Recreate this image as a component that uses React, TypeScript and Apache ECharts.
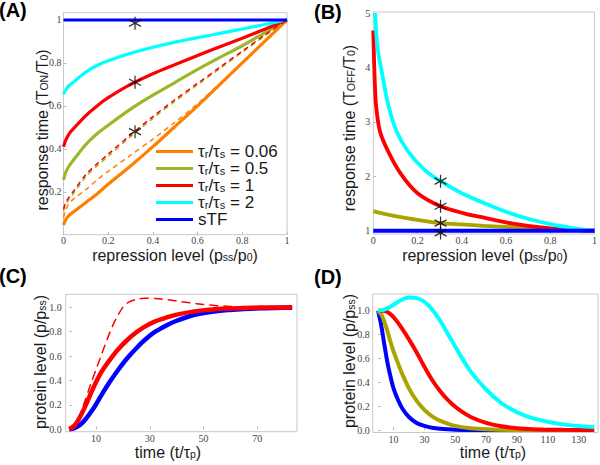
import { useEffect, useRef } from "react";
import * as echarts from "echarts";

// ---------- Panel A : response time T_ON/T_0 vs repression level ----------
const A_X = [0, 0.01, 0.025, 0.05, 0.1, 0.15, 0.2, 0.3, 0.4, 0.5, 0.6, 0.7, 0.8, 0.9, 1];
const A_CYAN = [0.655, 0.675, 0.695, 0.715, 0.758, 0.788, 0.81, 0.845, 0.873, 0.897, 0.918, 0.938, 0.958, 0.979, 1.0];
const A_RED = [0.41, 0.44, 0.47, 0.5, 0.555, 0.6, 0.638, 0.7, 0.75, 0.793, 0.835, 0.875, 0.915, 0.957, 1.0];
const A_OLIVE = [0.255, 0.29, 0.32, 0.355, 0.42, 0.47, 0.51, 0.585, 0.65, 0.71, 0.77, 0.826, 0.88, 0.94, 1.0];
const A_ORANGE = [0.045, 0.07, 0.09, 0.11, 0.15, 0.19, 0.235, 0.32, 0.41, 0.505, 0.6, 0.7, 0.8, 0.9, 1.0];
const A_ORANGE_DASH = [0.08, 0.115, 0.145, 0.17, 0.21, 0.255, 0.295, 0.37, 0.445, 0.525, 0.61, 0.705, 0.803, 0.902, 1.0];
const A_RED_DASH = [0.12, 0.15, 0.175, 0.21, 0.28, 0.33, 0.375, 0.465, 0.55, 0.63, 0.705, 0.78, 0.855, 0.93, 1.0];
const A_OLIVE_DASH = [0.11, 0.14, 0.165, 0.2, 0.27, 0.32, 0.365, 0.456, 0.542, 0.622, 0.698, 0.774, 0.85, 0.926, 1.0];
const A_STF_X = [0, 1];
const A_STF = [1, 1];
const A_STAR_X = [0.32, 0.32, 0.32];
const A_STAR_Y = [0.985, 0.71, 0.48];

// ---------- Panel B : response time T_OFF/T_0 ----------
const B_CYAN_X = [0.008, 0.015, 0.025, 0.038, 0.067, 0.105, 0.157, 0.232, 0.304, 0.4, 0.5, 0.6, 0.7, 0.8, 0.9, 1.0];
const B_CYAN = [5.0, 4.54, 4.2, 3.93, 3.32, 2.83, 2.46, 2.12, 1.91, 1.69, 1.51, 1.35, 1.22, 1.12, 1.05, 1.0];
const B_RED_X = [0, 0.002, 0.005, 0.012, 0.03, 0.067, 0.127, 0.2, 0.304, 0.41, 0.5, 0.63, 0.78, 0.93, 1];
const B_RED = [4.68, 4.35, 3.93, 3.32, 2.83, 2.46, 2.03, 1.69, 1.45, 1.32, 1.24, 1.13, 1.05, 1.01, 1.0];
const B_OLIVE_X = [0, 0.05, 0.1, 0.2, 0.304, 0.4, 0.5, 0.63, 0.78, 0.93, 1];
const B_OLIVE = [1.36, 1.31, 1.27, 1.2, 1.14, 1.115, 1.09, 1.065, 1.04, 1.01, 1.0];
const B_STF_X = [0, 1];
const B_STF = [1, 1];
const B_STAR_X = [0.304, 0.304, 0.304, 0.304];
const B_STAR_Y = [1.91, 1.45, 1.14, 0.96];

// ---------- Panel C : protein level, switching ON ----------
const C_T = [0, 2, 4, 6, 9, 12, 15, 18, 21.5, 25, 28, 32, 36, 40, 46, 52, 59, 65, 71, 77, 83];
const C_BLUE = [0, 0.01, 0.035, 0.08, 0.17, 0.28, 0.385, 0.48, 0.58, 0.665, 0.73, 0.8, 0.85, 0.89, 0.935, 0.96, 0.978, 0.986, 0.992, 0.995, 0.997];
const C_RED = [0, 0.03, 0.1, 0.19, 0.34, 0.47, 0.565, 0.65, 0.73, 0.795, 0.84, 0.885, 0.915, 0.94, 0.965, 0.98, 0.99, 0.995, 0.998, 0.999, 1.0];
const C_DASH_T = [0, 2, 4, 6, 8, 10, 12, 14, 16, 18, 20, 22, 25, 28, 32, 36, 40, 45, 50, 55, 60, 65, 70, 83];
const C_RED_DASH = [0, 0.03, 0.12, 0.24, 0.37, 0.49, 0.61, 0.73, 0.84, 0.93, 1.0, 1.04, 1.065, 1.075, 1.073, 1.064, 1.052, 1.037, 1.024, 1.014, 1.007, 1.003, 1.001, 1.0];

// ---------- Panel D : protein level, switching OFF ----------
const D_BLUE_T = [0, 2, 4, 6, 8, 10, 13, 16, 20, 25, 30, 35, 40, 50, 60, 80, 140];
const D_BLUE = [1.0, 0.88, 0.72, 0.57, 0.45, 0.35, 0.25, 0.175, 0.11, 0.06, 0.035, 0.02, 0.012, 0.004, 0.001, 0, 0];
const D_OLIVE_T = [0, 2, 4, 6, 8, 10, 12, 15, 20, 25, 30, 35, 40, 50, 60, 70, 90, 140];
const D_OLIVE = [1.0, 0.97, 0.91, 0.83, 0.74, 0.66, 0.59, 0.49, 0.35, 0.245, 0.17, 0.115, 0.08, 0.035, 0.015, 0.007, 0.001, 0];
const D_RED_T = [0, 3, 6, 9, 12, 15, 20, 25, 30, 35, 40, 45, 50, 55, 60, 70, 80, 90, 100, 120, 140];
const D_RED = [1.0, 1.0, 0.99, 0.96, 0.915, 0.86, 0.76, 0.65, 0.53, 0.42, 0.33, 0.255, 0.195, 0.148, 0.11, 0.06, 0.032, 0.016, 0.008, 0.002, 0.0];
const D_CYAN_T = [0, 3, 6, 10, 15, 20, 25, 30, 35, 40, 45, 50, 55, 60, 70, 80, 90, 100, 110, 120, 130, 140];
const D_CYAN = [1.0, 1.005, 1.02, 1.05, 1.09, 1.11, 1.105, 1.075, 1.01, 0.92, 0.81, 0.7, 0.59, 0.49, 0.34, 0.225, 0.15, 0.1, 0.07, 0.048, 0.035, 0.027];

// ---------- tick labels ----------
const AB_X_TICKS = [0, 0.2, 0.4, 0.6, 0.8, 1];
const A_Y_TICKS = [0.2, 0.4, 0.6, 0.8, 1];
const B_Y_TICKS = [1, 2, 3, 4, 5];
const C_X_TICKS = [10, 30, 50, 70];
const D_X_TICKS = [10, 30, 50, 70, 90, 110, 130];
const CD_Y_TICKS = [0, 0.2, 0.4, 0.6, 0.8, 1.0];

const LEGEND_NAMES = ["τr/τs = 0.06", "τr/τs = 0.5", "τr/τs = 1", "τr/τs = 2", "sTF"];
const LEGEND_RICH_TEXT: Record<string, string> = {
  "τr/τs = 0.06": "{t|τ}{s|r}{t|/τ}{s|s}{t| = 0.06}",
  "τr/τs = 0.5": "{t|τ}{s|r}{t|/τ}{s|s}{t| = 0.5}",
  "τr/τs = 1": "{t|τ}{s|r}{t|/τ}{s|s}{t| = 1}",
  "τr/τs = 2": "{t|τ}{s|r}{t|/τ}{s|s}{t| = 2}",
  sTF: "{t|sTF}",
};

const SANS = "'Liberation Sans', Arial, sans-serif";
const SERIF = "'Liberation Serif', 'Times New Roman', serif";
const ORANGE = "#ff8000";
const OLIVE_A = "#99b82a";
const OLIVE_B = "#aaa400";
const RED = "#ff0000";
const CYAN = "#00ffff";
const BLUE = "#0000ff";
const STAR_PATH = "path://M0,-10L0,10M-8.66,-5L8.66,5M-8.66,5L8.66,-5";

const zip = (xs: number[], ys: number[]) => xs.map((x, i) => [x, ys[i]]);

const fmtShort = (v: number) => String(+Number(v).toFixed(1));
const fmtOne = (v: number) => Number(v).toFixed(1);

function axisCfg(gridIndex: number, min: number, max: number, ticks: number[], fmt: (v: number) => string, margin: number) {
  return {
    type: "value",
    gridIndex,
    min,
    max,
    axisLine: { show: false },
    splitLine: { show: false },
    axisTick: { show: true, inside: true, length: 3, customValues: ticks, lineStyle: { color: "#bbb" } },
    axisLabel: {
      customValues: ticks,
      formatter: fmt,
      margin,
      fontFamily: SERIF,
      fontSize: 10,
      lineHeight: 10,
      color: "#444",
    },
  };
}

function line(name: string, idx: number, data: number[][], color: string, width: number, dash?: number[], z = 2) {
  return {
    type: "line",
    name,
    xAxisIndex: idx,
    yAxisIndex: idx,
    data,
    symbol: "none",
    smooth: 0.3,
    color,
    itemStyle: { color },
    lineStyle: { color, width, type: dash ? dash : "solid" },
    z,
    silent: true,
  };
}
function stars(idx: number, xs: number[], ys: number[]) {
  return {
    type: "scatter",
    name: "marker",
    xAxisIndex: idx,
    yAxisIndex: idx,
    data: zip(xs, ys),
    symbol: STAR_PATH,
    symbolSize: [12, 13],
    itemStyle: { color: "rgba(0,0,0,0)", borderColor: "#000", borderWidth: 1.3 },
    z: 6,
    clip: false,
    silent: true,
  };
}

const TRICH = {
  t: { fontFamily: SANS, fontSize: 16, lineHeight: 14, fill: "#1a1a1a" },
  s: { fontFamily: SANS, fontSize: 10.5, lineHeight: 6, verticalAlign: "bottom", fill: "#1a1a1a" },
};
function title(x: number, y: number, text: string, rotate = false) {
  return {
    type: "text",
    x,
    y,
    rotation: rotate ? Math.PI / 2 : 0,
    style: { text, rich: TRICH, align: "center", verticalAlign: "middle" },
    silent: true,
  };
}
function panelLabel(x: number, y: number, text: string) {
  return {
    type: "text",
    x,
    y,
    style: { text, font: `bold 20px ${SANS}`, fill: "#000", align: "left", verticalAlign: "top" },
    silent: true,
  };
}

const X_TITLE = "{t|repression level (p}{s|ss}{t|/p}{s|0}{t|)}";
const T_TITLE = "{t|time (t/τ}{s|p}{t|)}";
const P_TITLE = "{t|protein level (p/p}{s|ss}{t|)}";

export default function App() {
  const ref = useRef<HTMLDivElement>(null);
  useEffect(() => {
    const chart = echarts.init(ref.current!, null, { renderer: "svg" });
    const gridBase = { show: true, borderColor: "#c8c8c8", borderWidth: 1, backgroundColor: "transparent" };
    chart.setOption({
      animation: false,
      backgroundColor: "#fff",
      grid: [
        { ...gridBase, left: 63.5, top: 12.7, width: 223.5, height: 222 },
        { ...gridBase, left: 373.3, top: 12, width: 222.7, height: 222 },
        { ...gridBase, left: 65.7, top: 294.3, width: 231.3, height: 137.4 },
        { ...gridBase, left: 372.7, top: 294, width: 225.3, height: 138.5 },
      ],
      xAxis: [
        axisCfg(0, 0, 1, AB_X_TICKS, fmtShort, 1),
        axisCfg(1, 0, 1, AB_X_TICKS, fmtShort, 1),
        axisCfg(2, -1.3, 84.8, C_X_TICKS, (v) => String(v), 2),
        axisCfg(3, -3.5, 142.5, D_X_TICKS, (v) => String(v), 2),
      ],
      yAxis: [
        axisCfg(0, 0, 1.034, A_Y_TICKS, fmtShort, 2),
        axisCfg(1, 0.94, 5.02, B_Y_TICKS, (v) => String(v), 3),
        axisCfg(2, -0.02, 1.107, CD_Y_TICKS, fmtOne, 4),
        axisCfg(3, -0.02, 1.14, CD_Y_TICKS, fmtOne, 3),
      ],
      legend: {
        data: LEGEND_NAMES,
        orient: "vertical",
        left: 156,
        top: 143,
        padding: 0,
        itemGap: 0,
        itemWidth: 37,
        itemHeight: 3,
        icon: "rect",
        selectedMode: false,
        formatter: (name: string) => LEGEND_RICH_TEXT[name] || name,
        textStyle: {
          color: "#1a1a1a",
          rich: {
            t: { fontFamily: SANS, fontSize: 17, lineHeight: 15.6, color: "#1a1a1a" },
            s: { fontFamily: SANS, fontSize: 11, lineHeight: 7, verticalAlign: "bottom", color: "#1a1a1a" },
          },
        },
      },
      series: [
        // A
        line("τr/τs = 0.06", 0, zip(A_X, A_ORANGE), ORANGE, 3.2),
        line("τr/τs = 0.5", 0, zip(A_X, A_OLIVE), OLIVE_A, 3.2),
        line("τr/τs = 1", 0, zip(A_X, A_RED), RED, 3.2),
        line("τr/τs = 2", 0, zip(A_X, A_CYAN), CYAN, 3.2),
        line("sTF", 0, zip(A_STF_X, A_STF), BLUE, 3.2, undefined, 4),
        line("approx 0.06", 0, zip(A_X, A_ORANGE_DASH), ORANGE, 1.5, [5, 4]),
        line("approx 0.5", 0, zip(A_X, A_OLIVE_DASH), OLIVE_A, 1.5, [5, 4]),
        line("approx 1", 0, zip(A_X, A_RED_DASH), RED, 1.5, [5, 4], 3),
        stars(0, A_STAR_X, A_STAR_Y),
        // B
        line("τr/τs = 0.5", 1, zip(B_OLIVE_X, B_OLIVE), OLIVE_B, 3.8),
        line("τr/τs = 1", 1, zip(B_RED_X, B_RED), RED, 3.8),
        line("τr/τs = 2", 1, zip(B_CYAN_X, B_CYAN), CYAN, 3.8),
        line("sTF", 1, zip(B_STF_X, B_STF), BLUE, 3.8, undefined, 4),
        stars(1, B_STAR_X, B_STAR_Y),
        // C
        line("sTF", 2, zip(C_T, C_BLUE), BLUE, 4.5),
        line("τr/τs = 1", 2, zip(C_T, C_RED), RED, 4.5, undefined, 3),
        line("approx 1", 2, zip(C_DASH_T, C_RED_DASH), RED, 1.5, [9, 5], 3),
        // D
        line("sTF", 3, zip(D_BLUE_T, D_BLUE), BLUE, 4),
        line("τr/τs = 0.5", 3, zip(D_OLIVE_T, D_OLIVE), OLIVE_B, 4),
        line("τr/τs = 1", 3, zip(D_RED_T, D_RED), RED, 4),
        line("τr/τs = 2", 3, zip(D_CYAN_T, D_CYAN), CYAN, 4),
      ],
      graphic: [
        panelLabel(-1, 0, "(A)"),
        panelLabel(314, 2, "(B)"),
        panelLabel(-1, 266, "(C)"),
        panelLabel(314, 267, "(D)"),
        title(42, 130, "{t|response time (T}{s|ON}{t|/T}{s|0}{t|)}", true),
        title(349, 128, "{t|response time (T}{s|OFF}{t|/T}{s|0}{t|)}", true),
        title(40, 362, P_TITLE, true),
        title(349, 361, P_TITLE, true),
        title(175, 255, X_TITLE),
        title(485, 255, X_TITLE),
        title(168, 452, T_TITLE),
        title(493, 452, T_TITLE),
      ],
    });
    return () => chart.dispose();
  }, []);
  return (
    <div
      ref={ref}
      style={{ position: "fixed", left: 0, top: 0, width: 600, height: 465, background: "#fff" }}
    />
  );
}
